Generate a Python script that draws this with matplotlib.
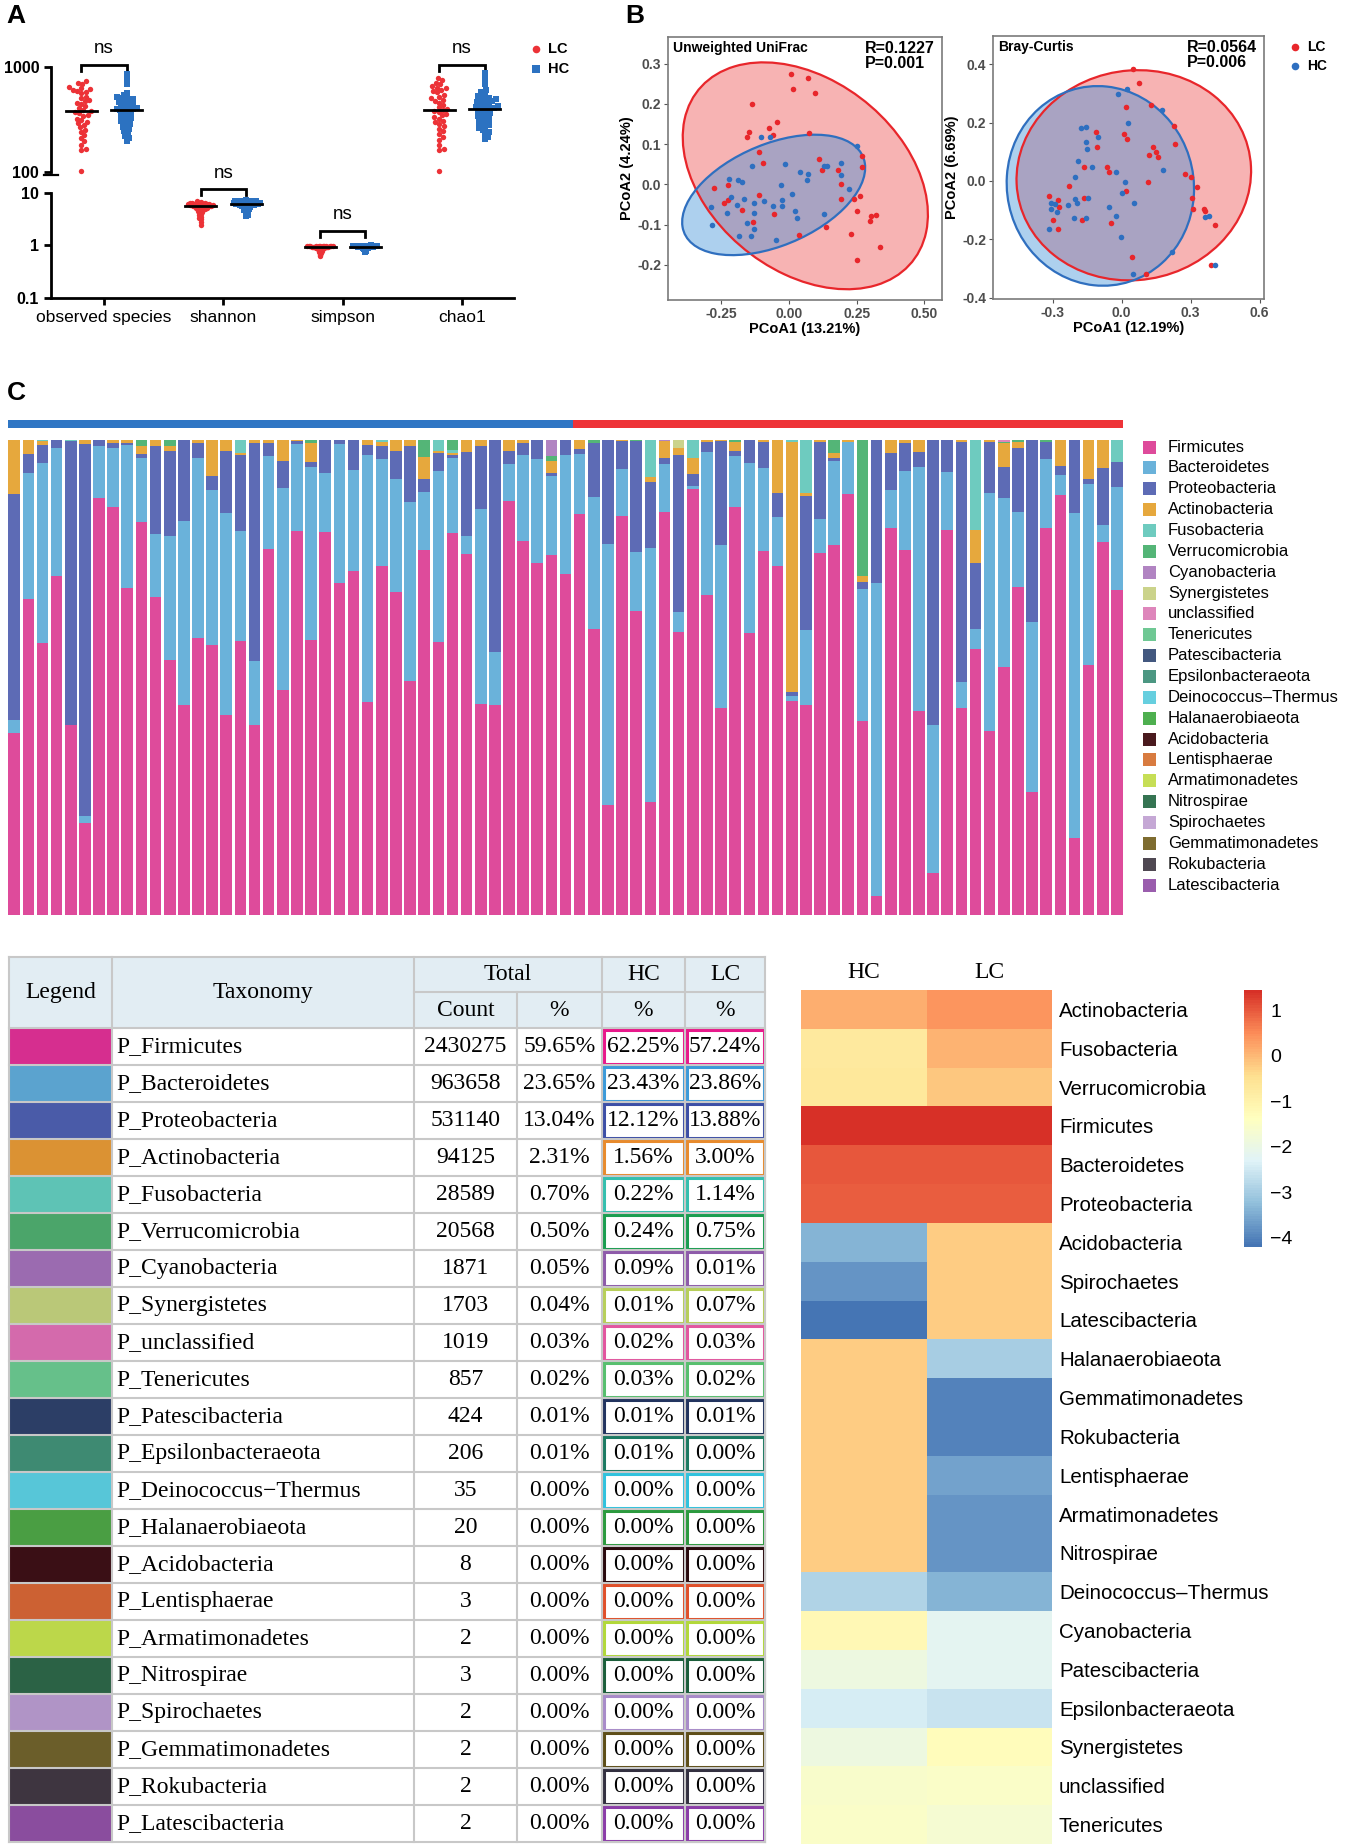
import numpy as np
import matplotlib.pyplot as plt
from matplotlib.patches import Ellipse, Rectangle
from matplotlib.colors import LinearSegmentedColormap

plt.rcParams['font.family'] = ['Liberation Sans', 'DejaVu Sans']
SERIF = ['Liberation Serif', 'DejaVu Serif']

W, H = 1349, 1845
RED = '#ec3237'
BLUE = '#2c72c1'

# ---------------- panel A : alpha diversity ----------------
alpha_labels = ['observed species', 'shannon', 'simpson', 'chao1']
obs_lc = [735, 700, 690, 640, 625, 610, 600, 590, 580, 560, 520, 505, 480, 470, 455, 440, 420, 400, 385, 375,
          370, 360, 350, 340, 320, 310, 300, 290, 280, 265, 250, 240, 225, 210, 195, 180, 165, 160, 101]
obs_hc = [850, 760, 680, 560, 540, 520, 510, 500, 490, 480, 470, 460, 450, 440, 430, 420, 410, 400, 395, 392,
          390, 385, 375, 365, 355, 345, 335, 325, 315, 305, 295, 285, 275, 265, 255, 245, 235, 220, 210, 195]
chao_lc = [775, 740, 700, 680, 650, 630, 620, 600, 590, 570, 540, 520, 500, 480, 470, 455, 430, 410, 395, 385,
           380, 370, 355, 345, 330, 320, 305, 295, 285, 270, 255, 245, 230, 215, 200, 180, 165, 160, 101]
chao_hc = [870, 780, 690, 600, 570, 550, 530, 515, 500, 490, 480, 470, 460, 450, 440, 430, 420, 410, 405, 400,
           396, 390, 380, 370, 360, 350, 340, 330, 320, 310, 300, 290, 280, 270, 260, 250, 240, 230, 215, 205]
shan_lc = [6.8, 6.6, 6.5, 6.4, 6.3, 6.3, 6.2, 6.1, 6.1, 6.0, 6.0, 5.9, 5.9, 5.8, 5.8, 5.7, 5.7, 5.6, 5.6, 5.5,
           5.5, 5.4, 5.3, 5.2, 5.1, 5.0, 4.9, 4.8, 4.6, 4.5, 4.3, 4.1, 3.9, 3.7, 3.5, 3.3, 3.1, 2.8, 2.4]
shan_hc = [7.3, 7.1, 7.0, 6.9, 6.8, 6.7, 6.7, 6.6, 6.6, 6.5, 6.5, 6.4, 6.4, 6.3, 6.3, 6.2, 6.2, 6.2, 6.1, 6.1,
           6.0, 6.0, 5.9, 5.9, 5.8, 5.8, 5.7, 5.6, 5.5, 5.4, 5.3, 5.2, 5.0, 4.8, 4.6, 4.4, 4.2, 4.0, 3.8, 3.6]
simp_lc = [0.98, 0.97, 0.97, 0.97, 0.96, 0.96, 0.96, 0.96, 0.95, 0.95, 0.95, 0.95, 0.94, 0.94, 0.94, 0.93,
           0.93, 0.93, 0.92, 0.92, 0.91, 0.91, 0.90, 0.90, 0.89, 0.88, 0.87, 0.86, 0.85, 0.84, 0.82, 0.80,
           0.78, 0.76, 0.74, 0.72, 0.70, 0.66, 0.62]
simp_hc = [0.99, 0.98, 0.98, 0.98, 0.98, 0.97, 0.97, 0.97, 0.97, 0.97, 0.96, 0.96, 0.96, 0.96, 0.96, 0.95,
           0.95, 0.95, 0.95, 0.94, 0.94, 0.94, 0.93, 0.93, 0.93, 0.92, 0.92, 0.91, 0.91, 0.90, 0.90, 0.89,
           0.88, 0.87, 0.86, 0.85, 0.83, 0.81, 0.78, 0.75]

# ---------------- panel B : PCoA ----------------
uw_lc_x = [0.006, 0.071, 0.016, 0.097, -0.135, -0.043, -0.075, -0.147, -0.060, -0.155, 0.074, -0.110, -0.097,
           0.111, 0.121, 0.268, 0.270, 0.181, 0.192, -0.278, -0.224, -0.240, -0.225, -0.110, -0.172, -0.133,
           -0.057, 0.192, 0.239, 0.262, 0.252, 0.304, 0.320, 0.298, 0.137, 0.038, 0.228, 0.337, 0.252]
uw_lc_y = [0.274, 0.264, 0.236, 0.228, 0.200, 0.156, 0.140, 0.129, 0.122, 0.117, 0.127, 0.080, 0.052,
           0.062, 0.037, 0.071, 0.044, 0.037, 0.002, -0.008, -0.002, -0.046, -0.038, -0.027, -0.063, -0.094,
           -0.074, -0.036, -0.037, -0.028, -0.066, -0.078, -0.076, -0.092, -0.106, -0.125, -0.124, -0.155, -0.188]
uw_hc_x = [-0.102, -0.070, 0.252, -0.135, -0.016, 0.191, 0.129, 0.142, 0.041, 0.070, 0.068, 0.192, -0.220,
           -0.190, -0.175, -0.031, 0.222, -0.288, -0.216, -0.167, -0.191, -0.229, -0.128, -0.092, -0.026,
           -0.027, 0.012, -0.060, 0.023, 0.028, -0.129, 0.129, -0.155, -0.128, -0.284, -0.183, -0.139, -0.047]
uw_hc_y = [0.118, 0.118, 0.096, 0.045, 0.051, 0.054, 0.045, 0.045, 0.030, 0.027, 0.012, 0.024, 0.014,
           0.012, 0.007, -0.002, -0.012, -0.055, -0.032, -0.036, -0.052, -0.072, -0.046, -0.041, -0.038,
           -0.053, -0.023, -0.054, -0.065, -0.083, -0.071, -0.074, -0.095, -0.110, -0.100, -0.129, -0.129, -0.139]
bc_lc_x = [0.051, 0.074, 0.020, 0.126, 0.228, 0.230, -0.112, -0.106, 0.012, 0.025, 0.138, 0.120, 0.151,
           0.159, -0.164, -0.065, -0.055, 0.116, 0.275, 0.303, 0.328, -0.229, 0.304, 0.312, 0.357, 0.361,
           0.404, -0.317, -0.278, -0.271, -0.300, -0.278, -0.162, -0.171, 0.017, -0.046, 0.043, 0.107, 0.388]
bc_lc_y = [0.384, 0.337, 0.254, 0.259, 0.190, 0.128, 0.167, 0.118, 0.160, 0.143, 0.118, 0.088, 0.098,
           0.081, 0.047, 0.047, 0.031, -0.003, 0.022, 0.013, -0.022, -0.019, -0.057, -0.098, -0.097, -0.104,
           -0.152, -0.053, -0.067, -0.088, -0.134, -0.166, -0.059, -0.135, -0.033, -0.144, -0.261, -0.320, -0.288]
bc_hc_x = [-0.017, 0.025, 0.177, 0.026, -0.178, -0.155, -0.157, -0.149, -0.103, -0.191, -0.203, -0.130,
           -0.025, 0.181, 0.014, 0.000, 0.055, -0.204, -0.193, -0.146, -0.235, -0.309, -0.290, -0.309, -0.283,
           -0.206, -0.154, -0.054, -0.025, -0.317, -0.001, 0.220, 0.362, 0.380, 0.406, 0.051]
bc_hc_y = [0.299, 0.315, 0.243, 0.199, 0.183, 0.185, 0.133, 0.111, 0.151, 0.070, 0.015, 0.048, 0.031,
           0.037, -0.005, -0.040, -0.075, -0.061, -0.077, -0.059, -0.082, -0.077, -0.078, -0.095, -0.105,
           -0.128, -0.126, -0.091, -0.122, -0.166, -0.194, -0.245, -0.123, -0.122, -0.287, -0.320]

# ---------------- panel C : phylum composition per sample ----------------
n_hc = 40
firmicutes = [38.1, 66.4, 57.2, 71.4, 40.1, 19.3, 87.6, 85.7, 68.6, 82.6,
              66.7, 53.5, 44.1, 58.1, 56.7, 42.1, 57.5, 39.9, 77.0, 47.3,
              80.8, 57.8, 80.4, 69.7, 72.1, 44.9, 73.3, 67.9, 49.1, 76.6,
              57.4, 80.2, 75.9, 44.3, 44.1, 87.0, 78.5, 73.8, 75.7, 71.8,
              84.3, 60.1, 23.2, 83.9, 63.7, 23.7, 84.8, 59.6, 89.5, 67.3,
              43.5, 85.8, 59.3, 76.6, 73.4, 44.9, 44.2, 76.0, 77.7, 88.5,
              40.7, 3.9, 81.3, 76.6, 42.9, 8.9, 80.9, 43.6, 56.0, 38.7,
              52.3, 69.0, 25.8, 81.4, 88.2, 16.1, 52.6, 78.4, 68.4]
bacteroidetes = [2.8, 26.4, 38.0, 26.9, 0.0, 1.6, 10.9, 12.4, 30.1, 13.5,
                 13.3, 26.2, 38.7, 38.0, 32.6, 42.4, 23.1, 13.5, 19.4, 42.5,
                 18.3, 36.5, 12.3, 29.0, 21.3, 51.8, 22.5, 23.7, 37.7, 12.3,
                 35.9, 15.8, 3.7, 41.1, 11.1, 7.9, 18.1, 21.9, 16.5, 24.9,
                 12.5, 27.7, 54.8, 9.8, 12.4, 53.4, 10.0, 4.2, 0.7, 30.1,
                 34.2, 10.6, 35.7, 17.4, 10.3, 1.0, 15.6, 7.3, 17.6, 10.9,
                 27.8, 65.9, 7.9, 16.6, 51.2, 31.0, 12.2, 5.5, 4.1, 50.0,
                 35.5, 15.6, 35.7, 14.5, 4.3, 68.3, 38.0, 3.7, 21.6]
proteobacteria = [47.4, 4.0, 3.7, 1.6, 59.6, 78.1, 1.3, 1.1, 0.5, 0.7,
                  18.4, 17.8, 17.1, 3.1, 3.1, 13.0, 16.0, 45.7, 2.8, 5.7,
                  0.5, 1.0, 6.9, 0.9, 6.2, 2.1, 2.8, 5.9, 11.7, 2.8,
                  3.7, 0.6, 17.6, 13.3, 44.6, 2.7, 2.5, 3.9, 0.7, 3.2,
                  1.1, 11.4, 21.8, 5.9, 23.2, 13.9, 1.4, 32.9, 2.4, 2.0,
                  21.9, 1.0, 4.9, 5.4, 5.0, 1.0, 28.3, 16.1, 0.8, 0.0,
                  1.4, 30.0, 7.8, 6.0, 3.2, 59.9, 6.7, 50.3, 14.0, 10.6,
                  6.6, 13.6, 38.3, 3.5, 1.8, 15.4, 1.0, 12.0, 5.2]
actinobacteria = [11.4, 3.0, 0.8, 0.0, 0.0, 0.8, 0.0, 0.6, 0.6, 1.7,
                  1.3, 1.0, 0.0, 0.6, 7.5, 2.3, 0.4, 0.7, 0.6, 4.4,
                  0.3, 4.0, 0.0, 0.0, 0.0, 1.1, 0.8, 2.3, 1.3, 4.5,
                  0.5, 0.4, 2.6, 1.2, 0.0, 2.3, 0.7, 0.0, 2.4, 0.0,
                  1.9, 0.0, 0.0, 0.2, 0.0, 1.1, 3.4, 1.6, 3.4, 0.5,
                  0.2, 2.0, 0.0, 0.5, 11.1, 52.4, 0.5, 0.4, 0.9, 0.4,
                  1.3, 0.0, 2.8, 0.6, 2.5, 0.0, 0.0, 0.5, 6.9, 0.5,
                  4.9, 1.2, 0.0, 0.0, 5.5, 0.0, 8.2, 5.8, 0.0]
fusobacteria = [0, 0, 0.3, 0, 0.3, 0, 0, 0, 0, 0,
                0, 0, 0, 0, 0, 0, 2.8, 0, 0, 0,
                0, 0, 0, 0, 0, 0, 0.4, 0, 0, 0,
                2.3, 0.7, 0, 0, 0, 0, 0, 0, 0, 0,
                0, 0, 0, 0, 0, 7.7, 0, 0, 3.8, 0,
                0, 0, 0, 0, 0, 0.4, 11.2, 0, 0, 0,
                0, 0, 0, 0, 0, 0, 0, 0, 18.9, 0,
                0, 0, 0, 0, 0, 0, 0, 0, 4.7]
verrucomicrobia = [0, 0, 0, 0, 0, 0, 0, 0, 0, 1.3,
                   0, 1.3, 0, 0, 0, 0, 0, 0, 0, 0,
                   0, 0.6, 0, 0, 0, 0, 0, 0, 0, 3.6,
                   0, 2.1, 0, 0, 0, 0, 0, 0, 1.1, 0,
                   0, 0.6, 0, 0, 0.3, 0, 0, 0, 0, 0,
                   0, 0.4, 0, 0, 0, 0, 0, 0, 2.8, 0,
                   28.5, 0, 0, 0, 0, 0, 0, 0, 0, 0,
                   0.2, 0.4, 0, 0.4, 0, 0, 0, 0, 0]
cyanobacteria = {38: 3.4, 46: 0.3}
synergistetes = {47: 1.6}
unclassified = {70: 0.5}

legend_taxa = ['Firmicutes', 'Bacteroidetes', 'Proteobacteria', 'Actinobacteria', 'Fusobacteria',
               'Verrucomicrobia', 'Cyanobacteria', 'Synergistetes', 'unclassified', 'Tenericutes',
               'Patescibacteria', 'Epsilonbacteraeota', 'Deinococcus\u2013Thermus', 'Halanaerobiaeota',
               'Acidobacteria', 'Lentisphaerae', 'Armatimonadetes', 'Nitrospirae', 'Spirochaetes',
               'Gemmatimonadetes', 'Rokubacteria', 'Latescibacteria']
bar_colors = ['#de4b9b', '#6ab2da', '#5d6bb5', '#e6a83d', '#6ecbbf', '#54b577', '#b184c2', '#cbd38b',
              '#de86bb', '#6fc894', '#43587f', '#4c9782', '#66cfdf', '#4eaf4f', '#4a1a1e', '#d87b40',
              '#c6de56', '#357452', '#c5a8d5', '#7e6c30', '#4f4852', '#9a5dad']

# ---------------- table ----------------
table_taxa = ['Firmicutes', 'Bacteroidetes', 'Proteobacteria', 'Actinobacteria', 'Fusobacteria',
              'Verrucomicrobia', 'Cyanobacteria', 'Synergistetes', 'unclassified', 'Tenericutes',
              'Patescibacteria', 'Epsilonbacteraeota', 'Deinococcus\u2212Thermus', 'Halanaerobiaeota',
              'Acidobacteria', 'Lentisphaerae', 'Armatimonadetes', 'Nitrospirae', 'Spirochaetes',
              'Gemmatimonadetes', 'Rokubacteria', 'Latescibacteria']
total_count = [2430275, 963658, 531140, 94125, 28589, 20568, 1871, 1703, 1019, 857, 424, 206,
               35, 20, 8, 3, 2, 3, 2, 2, 2, 2]
total_pct = [59.65, 23.65, 13.04, 2.31, 0.70, 0.50, 0.05, 0.04, 0.03, 0.02, 0.01, 0.01,
             0, 0, 0, 0, 0, 0, 0, 0, 0, 0]
hc_pct = [62.25, 23.43, 12.12, 1.56, 0.22, 0.24, 0.09, 0.01, 0.02, 0.03, 0.01, 0.01,
          0, 0, 0, 0, 0, 0, 0, 0, 0, 0]
lc_pct = [57.24, 23.86, 13.88, 3.00, 1.14, 0.75, 0.01, 0.07, 0.03, 0.02, 0.01, 0.00,
          0, 0, 0, 0, 0, 0, 0, 0, 0, 0]
table_colors = ['#d62e8f', '#5ba3cf', '#4a5ba8', '#db9233', '#5ec3b5', '#4ba56a', '#9b6bb0', '#bac878',
                '#d46aac', '#66c08a', '#2c3e66', '#3e8a72', '#57c6d8', '#4a9e43', '#3a0f15', '#cc6133',
                '#bcd74a', '#2b6245', '#b094c6', '#6b5e2a', '#3e3540', '#8a4d9e']
border_colors = ['#e8198b', '#3c9ad9', '#3d4fa6', '#e88b2d', '#35bfae', '#1a9e50', '#8e5baa', '#b7cf5a',
                 '#e2569f', '#57bf6e', '#22345f', '#1b7a62', '#30c2dd', '#2b9a3e', '#2a0a0e', '#e0502b',
                 '#b2d83a', '#1b5e3a', '#a88bc9', '#5e4e18', '#333040', '#8b3da8']

# ---------------- heatmap ----------------
hm_rows = ['Actinobacteria', 'Fusobacteria', 'Verrucomicrobia', 'Firmicutes', 'Bacteroidetes',
           'Proteobacteria', 'Acidobacteria', 'Spirochaetes', 'Latescibacteria', 'Halanaerobiaeota',
           'Gemmatimonadetes', 'Rokubacteria', 'Lentisphaerae', 'Armatimonadetes', 'Nitrospirae',
           'Deinococcus\u2013Thermus', 'Cyanobacteria', 'Patescibacteria', 'Epsilonbacteraeota',
           'Synergistetes', 'unclassified', 'Tenericutes']
hm_hc = [0.15, -0.75, -0.65, 1.45, 1.05, 0.95, -3.4, -3.8, -4.2, -0.2, -0.2, -0.2, -0.2, -0.2, -0.2,
         -2.9, -1.2, -1.9, -2.4, -1.9, -1.6, -1.5]
hm_lc = [0.40, 0.05, -0.15, 1.42, 1.05, 0.98, -0.2, -0.2, -0.2, -3.0, -4.0, -4.0, -3.6, -3.8, -3.8,
         -3.4, -2.2, -2.2, -2.6, -1.3, -1.5, -1.7]


def box(x0, y0, x1, y1):
    return [x0 / W, 1 - y1 / H, (x1 - x0) / W, (y1 - y0) / H]


def swarm_once(ys, d):
    offs = np.zeros(len(ys))
    placed = []
    for i in np.argsort(ys):
        y = ys[i]
        near = [(px, py) for px, py in placed if abs(py - y) < d]
        cands = [0.0]
        for px, py in near:
            dx = np.sqrt(d * d - (py - y) ** 2)
            cands += [px + dx, px - dx]
        cands.sort(key=abs)
        for c in cands:
            if all((c - px) ** 2 + (y - py) ** 2 >= d * d - 1e-6 for px, py in near):
                offs[i] = c
                placed.append((c, y))
                break
    return offs


def swarm(vals, height_px, lo, hi, d, half_width):
    # beeswarm in pixel space, squeezed until it fits the column width
    ys = (np.log10(vals) - np.log10(lo)) / (np.log10(hi) - np.log10(lo)) * height_px
    offs = swarm_once(ys, d)
    while np.abs(offs).max() > half_width and d > 1:
        d *= 0.92
        offs = swarm_once(ys, d)
    return offs


def trob(x, y, nu=5, iters=200):
    # multivariate-t robust centre / scatter, like MASS::cov.trob
    X = np.column_stack([x, y])
    n, p = X.shape
    w = np.ones(n)
    for _ in range(iters):
        c = (w[:, None] * X).sum(0) / w.sum()
        D = X - c
        S = (w[:, None] * D).T @ D / n
        Q = np.einsum('ij,jk,ik->i', D, np.linalg.inv(S), D)
        w = (nu + p) / (nu + Q)
    return c, S


def conf_ellipse(x, y, **kw):
    c, S = trob(np.asarray(x), np.asarray(y))
    vals, vecs = np.linalg.eigh(S)
    r = np.sqrt(2 * 3.24)
    ang = np.degrees(np.arctan2(vecs[1, 1], vecs[0, 1]))
    return Ellipse(c, 2 * r * np.sqrt(vals[1]), 2 * r * np.sqrt(vals[0]), angle=ang, **kw)


fig = plt.figure(figsize=(W / 100, H / 100), dpi=100)

# ======== A ========
PX_CAT = 119.5
axA1 = fig.add_axes(box(51, 66.7, 514, 171.7))
axA2 = fig.add_axes(box(51, 192.7, 514, 297.7))
for ax, lo, hi in [(axA1, 100, 1000), (axA2, 0.1, 10)]:
    ax.set_yscale('log')
    ax.set_ylim(lo, hi)
    ax.set_xlim(0.556, 4.435)
    ax.minorticks_off()
    ax.patch.set_alpha(0)
    for s in ['top', 'right']:
        ax.spines[s].set_visible(False)
    ax.spines['left'].set_linewidth(2)
    ax.spines['bottom'].set_linewidth(2)
    ax.tick_params(width=2, length=5, labelsize=11.5)
axA1.spines['bottom'].set_visible(False)
axA1.set_xticks([])
axA1.set_yticks([100, 1000], ['100', '1000'], fontweight='bold', fontsize=11.5)
axA2.set_yticks([0.1, 1, 10], ['0.1', '1', '10'], fontweight='bold', fontsize=11.5)
axA2.set_xticks([1, 2, 3, 4], alpha_labels, fontsize=12.5)

metrics = [(axA1, 1, obs_lc, obs_hc, 100, 1000, (1040, 912, 1500)),
           (axA2, 2, shan_lc, shan_hc, 0.1, 10, (11.6, 8.9, 23.5)),
           (axA2, 3, simp_lc, simp_hc, 0.1, 10, (1.89, 1.46, 3.8)),
           (axA1, 4, chao_lc, chao_hc, 100, 1000, (1040, 912, 1500))]
for ax, c, lc, hc, lo, hi, (yb, yl, yt) in metrics:
    for vals, side, col, mk in [(lc, -0.19, RED, 'o'), (hc, 0.19, BLUE, 's')]:
        v = np.array(vals, dtype=float)
        off = swarm(v, 105, lo, hi, 4.6, 14) / PX_CAT
        ax.scatter(c + side + off, v, s=15, marker=mk, color=col, lw=0, clip_on=False, zorder=3)
        ax.plot([c + side - 0.13, c + side + 0.13], [np.median(v)] * 2, color='k', lw=2,
                zorder=4, clip_on=False)
    ax.plot([c - 0.19, c - 0.19, c + 0.19, c + 0.19], [yl, yb, yb, yl], color='k', lw=2,
            clip_on=False, solid_joinstyle='miter')
    ax.text(c, yt, 'ns', ha='center', va='center', fontsize=13.5)

# ======== B ========
def pcoa(rect, lc, hc, xlim, ylim, xt, yt, xfmt, title, stat, xlabel, ylabel):
    ax = fig.add_axes(box(*rect))
    ax.add_patch(conf_ellipse(*lc, fc='#ee4a4a', ec='none', alpha=0.42))
    ax.add_patch(conf_ellipse(*hc, fc='#3d8fd8', ec='none', alpha=0.42))
    ax.add_patch(conf_ellipse(*lc, fc='none', ec='#e8262b', lw=1.6))
    ax.add_patch(conf_ellipse(*hc, fc='none', ec='#2f6fbf', lw=1.6))
    ax.scatter(lc[0], lc[1], s=16, color='#e8262b', lw=0, zorder=3)
    ax.scatter(hc[0], hc[1], s=16, color='#2e6fc0', lw=0, zorder=3)
    ax.set_xlim(*xlim)
    ax.set_ylim(*ylim)
    ax.set_xticks(xt, [xfmt % v for v in xt])
    ax.set_yticks(yt, ['%.1f' % v for v in yt])
    for s in ax.spines.values():
        s.set_color('#7a7a7a')
        s.set_linewidth(1.2)
    ax.tick_params(length=3, color='#555555', labelsize=10, labelcolor='#4d4d4d', pad=2)
    for t in ax.get_xticklabels() + ax.get_yticklabels():
        t.set_fontweight('bold')
    ax.set_xlabel(xlabel, fontsize=10.5, fontweight='bold', labelpad=1)
    ax.set_ylabel(ylabel, fontsize=10.5, fontweight='bold', labelpad=2)
    ax.text(0.02, 0.985, title, transform=ax.transAxes, ha='left', va='top', fontsize=10,
            fontweight='bold')
    ax.text(0.975, 0.985, stat, transform=ax.transAxes, ha='right', va='top', fontsize=11.5,
            fontweight='bold', multialignment='left', linespacing=1.0)
    return ax


pcoa((668, 37, 942, 300), (uw_lc_x, uw_lc_y), (uw_hc_x, uw_hc_y), (-0.447, 0.565), (-0.287, 0.366),
     [-0.25, 0.0, 0.25, 0.5], [-0.2, -0.1, 0.0, 0.1, 0.2, 0.3], '%.2f', 'Unweighted UniFrac',
     'R=0.1227\nP=0.001', 'PCoA1 (13.21%)', 'PCoA2 (4.24%)')
pcoa((993, 36, 1264, 299), (bc_lc_x, bc_lc_y), (bc_hc_x, bc_hc_y), (-0.56, 0.619), (-0.405, 0.497),
     [-0.3, 0.0, 0.3, 0.6], [-0.4, -0.2, 0.0, 0.2, 0.4], '%.1f', 'Bray-Curtis',
     'R=0.0564\nP=0.006', 'PCoA1 (12.19%)', 'PCoA2 (6.69%)')

# ======== C ========
n = len(firmicutes)
layers = [firmicutes, bacteroidetes, proteobacteria, actinobacteria, fusobacteria, verrucomicrobia]
extra = [cyanobacteria, synergistetes, unclassified]
stack = [np.array(l, dtype=float) for l in layers]
for d in extra:
    arr = np.zeros(n)
    for k, v in d.items():
        arr[k] = v
    stack.append(arr)
stack = np.array(stack)
stack = stack / stack.sum(axis=0) * 100

axC = fig.add_axes(box(8.4, 440, 1122.7, 915))
xs = np.arange(n)
bottom = np.zeros(n)
for i, layer in enumerate(stack):
    axC.bar(xs, layer, bottom=bottom, width=0.82, color=bar_colors[i], lw=0)
    bottom += layer
axC.set_xlim(-0.41, n - 1 + 0.41)
axC.set_ylim(0, 100)
axC.axis('off')

axBand = fig.add_axes(box(8.4, 420, 1122.7, 428))
axBand.axvspan(-0.41, n_hc - 0.5, color='#2f76c4', lw=0)
axBand.axvspan(n_hc - 0.5, n - 1 + 0.41, color='#ee3338', lw=0)
axBand.set_xlim(-0.41, n - 1 + 0.41)
axBand.axis('off')

# ======== heatmap ========
cmap = LinearSegmentedColormap.from_list(
    'rdylbu', ['#4575b4', '#91bfdb', '#e0f3f8', '#ffffbf', '#fee090', '#fc8d59', '#d73027'], N=100)
axH = fig.add_axes(box(801, 990, 1052, 1844))
mat = np.column_stack([hm_hc, hm_lc])
mesh = axH.pcolormesh(mat, cmap=cmap, vmin=mat.min(), vmax=mat.max())
axH.set_ylim(len(hm_rows), 0)
axH.set_xlim(0, 2)
axH.yaxis.tick_right()
axH.set_yticks(np.arange(len(hm_rows)) + 0.5, hm_rows, fontsize=14.8)
axH.xaxis.tick_top()
axH.set_xticks([0.5, 1.5], ['HC', 'LC'], fontsize=17, family=SERIF)
axH.tick_params(length=0, pad=5)
for s in axH.spines.values():
    s.set_visible(False)

cax = fig.add_axes(box(1244, 990, 1262, 1247))
cb = fig.colorbar(mesh, cax=cax, ticks=[-4, -3, -2, -1, 0, 1])
cb.outline.set_visible(False)
cax.tick_params(length=0, labelsize=14, pad=6)

# ======== overlay: letters, legends, table ========
ov = fig.add_axes([0, 0, 1, 1])
ov.set_xlim(0, W)
ov.set_ylim(H, 0)
ov.axis('off')

for ch, x, y in [('A', 6, 16), ('B', 625, 16), ('C', 7, 393)]:
    ov.text(x, y, ch, fontsize=19, fontweight='bold', va='center', ha='left')

# legend A
ov.scatter([536], [49], s=30, marker='o', color=RED, lw=0)
ov.scatter([536], [69], s=28, marker='s', color=BLUE, lw=0)
ov.text(548, 49, 'LC', fontsize=10.5, fontweight='bold', va='center')
ov.text(548, 69, 'HC', fontsize=10.5, fontweight='bold', va='center')
# axis break mark
ov.plot([44, 58], [175, 175], color='k', lw=1.6)

# legend B
ov.scatter([1295], [47], s=30, color='#e8262b', lw=0)
ov.scatter([1295], [66], s=30, color='#2e6fc0', lw=0)
ov.text(1307, 47, 'LC', fontsize=10, fontweight='bold', va='center')
ov.text(1307, 66, 'HC', fontsize=10, fontweight='bold', va='center')

# legend C
for i, name in enumerate(legend_taxa):
    y = 447 + i * 20.86
    ov.add_patch(Rectangle((1143, y - 6.5), 13, 13, fc=bar_colors[i], ec='none'))
    ov.text(1168, y, name, fontsize=12, va='center', ha='left')

# table
cx = [9, 112, 414, 517, 602, 685, 765]
ty0, tym, ty1 = 957, 992, 1028
rh = 37
GRID = '#c8c8c8'
nrow = len(table_taxa)
tbot = ty1 + nrow * rh
ov.add_patch(Rectangle((cx[0], ty0), cx[-1] - cx[0], ty1 - ty0, fc='#e2edf3', ec='none'))
tfs = 17
hdr = dict(fontsize=tfs, family=SERIF, ha='center', va='center')
ov.text((cx[0] + cx[1]) / 2, (ty0 + ty1) / 2, 'Legend', **hdr)
ov.text((cx[1] + cx[2]) / 2, (ty0 + ty1) / 2, 'Taxonomy', **hdr)
ov.text((cx[2] + cx[4]) / 2, (ty0 + tym) / 2, 'Total', **hdr)
ov.text((cx[2] + cx[3]) / 2, (tym + ty1) / 2, 'Count', **hdr)
ov.text((cx[3] + cx[4]) / 2, (tym + ty1) / 2, '%', **hdr)
ov.text((cx[4] + cx[5]) / 2, (ty0 + tym) / 2, 'HC', **hdr)
ov.text((cx[4] + cx[5]) / 2, (tym + ty1) / 2, '%', **hdr)
ov.text((cx[5] + cx[6]) / 2, (ty0 + tym) / 2, 'LC', **hdr)
ov.text((cx[5] + cx[6]) / 2, (tym + ty1) / 2, '%', **hdr)

for y in [ty0, ty1] + [ty1 + (i + 1) * rh for i in range(nrow)]:
    ov.plot([cx[0], cx[-1]], [y, y], color=GRID, lw=1.5)
ov.plot([cx[2], cx[-1]], [tym, tym], color=GRID, lw=1.5)
for j, x in enumerate(cx):
    ov.plot([x, x], [tym if j == 3 else ty0, tbot], color=GRID, lw=1.5)

for i, name in enumerate(table_taxa):
    y0 = ty1 + i * rh
    yc = y0 + rh / 2
    ov.add_patch(Rectangle((cx[0] + 1, y0 + 1), cx[1] - cx[0] - 2, rh - 2, fc=table_colors[i], ec='none'))
    ov.text(cx[1] + 4, yc, 'P_' + name, fontsize=tfs, family=SERIF, ha='left', va='center')
    ov.text((cx[2] + cx[3]) / 2, yc, str(total_count[i]), **hdr)
    ov.text((cx[3] + cx[4]) / 2, yc, '%.2f%%' % total_pct[i], **hdr)
    ov.text((cx[4] + cx[5]) / 2, yc, '%.2f%%' % hc_pct[i], **hdr)
    ov.text((cx[5] + cx[6]) / 2, yc, '%.2f%%' % lc_pct[i], **hdr)
    for xa, xb in [(cx[4], cx[5]), (cx[5], cx[6])]:
        ov.add_patch(Rectangle((xa + 1.5, y0 + 1.5), xb - xa - 3, rh - 3, fill=False,
                               ec=border_colors[i], lw=2.2))

fig.savefig('out.png', dpi=100)
